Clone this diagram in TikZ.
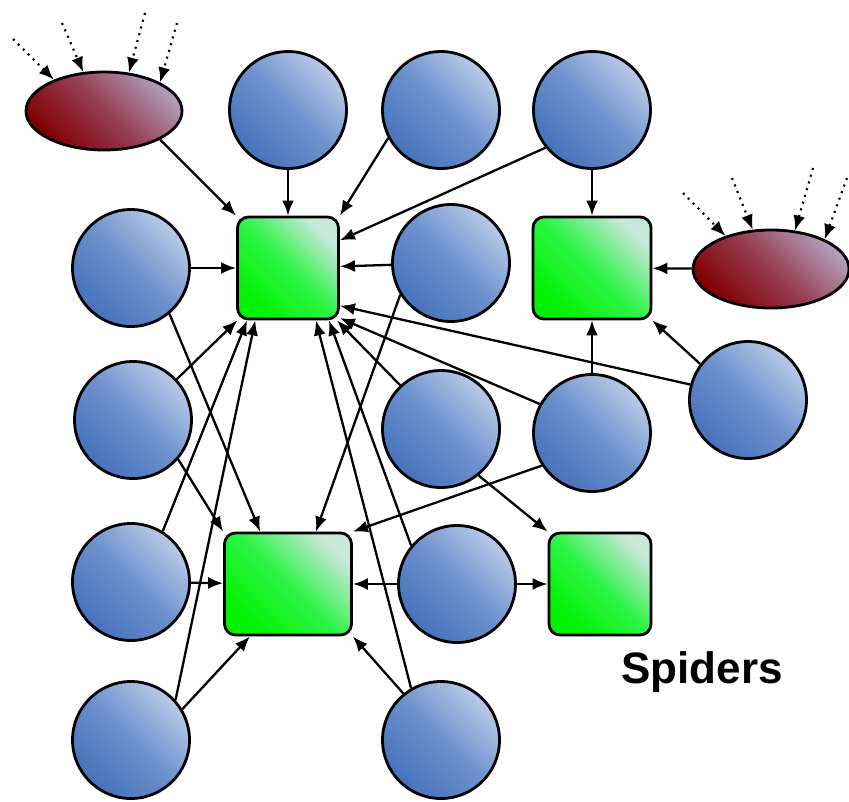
\documentclass[tikz,border=0pt]{standalone}
\usepackage{fontspec}
\newfontfamily\labelfont{Liberation Sans}
\usetikzlibrary{arrows.meta,shapes.geometric}
\definecolor{cblue}{RGB}{70,114,188}
\definecolor{cbluemid}{RGB}{108,144,204}
\definecolor{cbluelight}{RGB}{185,202,232}
\definecolor{cgreen}{RGB}{0,242,0}
\definecolor{cgreenmid}{RGB}{45,244,70}
\definecolor{cgreenlight}{RGB}{200,232,218}
\definecolor{cred}{RGB}{128,0,0}
\definecolor{credmid}{RGB}{150,60,80}
\definecolor{credlight}{RGB}{178,158,185}
\begin{document}
\begin{tikzpicture}[x=1pt,y=-1pt,
  bubble/.style={circle, draw=black, line width=2.8pt, minimum size=117pt, inner sep=0pt,
    top color=cbluelight, bottom color=cblue, middle color=cbluemid, shading angle=-45},
  box/.style={rectangle, rounded corners=11pt, draw=black, line width=2.8pt, inner sep=0pt,
    top color=cgreenlight, bottom color=cgreen, middle color=cgreenmid, shading angle=-45},
  blob/.style={ellipse, draw=black, line width=2.8pt, inner sep=0pt,
    minimum width=156pt, minimum height=78pt,
    top color=credlight, bottom color=cred, middle color=credmid, shading angle=-45},
  arr/.style={line width=2.3pt, -{Latex[length=15pt,width=12pt]}},
  dotarr/.style={line width=2.2pt, dash pattern=on 2pt off 5pt, -{Latex[length=15pt,width=12pt]}}
]
\useasboundingbox (0,0) rectangle (849,801);
\fill[white] (0,0) rectangle (849,801);

% circles
\node[bubble] (c1) at (288,110) {};
\node[bubble] (c2) at (441,110) {};
\node[bubble] (c3) at (592,110) {};
\node[bubble] (c4) at (131,268) {};
\node[bubble] (c5) at (451,263) {};
\node[bubble] (c6) at (133,420) {};
\node[bubble] (c7) at (441,429) {};
\node[bubble] (c8) at (592,433) {};
\node[bubble] (c9) at (748,400) {};
\node[bubble] (c10) at (131,582) {};
\node[bubble] (c11) at (457,584) {};
\node[bubble] (c12) at (131,740) {};
\node[bubble] (c13) at (441,740) {};

% boxes
\node[box, minimum width=101pt, minimum height=102pt] (g1) at (288,268) {};
\node[box, minimum width=118pt, minimum height=102pt] (g2) at (592,268) {};
\node[box, minimum width=127pt, minimum height=102pt] (g3) at (288,584) {};
\node[box, minimum width=102pt, minimum height=102pt] (g4) at (600,584) {};

% ellipses
\node[blob] (e1) at (104,111) {};
\node[blob] (e2) at (771,269) {};

% label
\node[font=\labelfont\bfseries\fontsize{44}{50}\selectfont, anchor=base, inner sep=0pt] (lbl) at (702,683) {Spiders};

% edges into g1
\draw[arr] (e1.-27) -- (g1.north west);
\draw[arr] (c1) -- (g1);
\draw[arr] (c2.208) -- (g1.north east);
\draw[arr] (c3.219) -- (g1.28);
\draw[arr] (c4) -- (g1);
\draw[arr] (c5) -- (g1);
\draw[arr] (c9.165.5) -- (g1.-36);
\draw[arr] (c8.151) -- (g1.-44);
\draw[arr] (c7.133) -- (g1.-47);
\draw[arr] (c11.140) -- (g1.-52.7);
\draw[arr] (c13.120) -- (g1.-62);
\draw[arr] (c6.43) -- (g1.226);
\draw[arr] (c10.58) -- (g1.232);
\draw[arr] (c12.42) -- (g1.238.6);

% edges into g3
\draw[arr] (c4.-50) -- (g3.118);
\draw[arr] (c5.212.7) -- (g3.62.8);
\draw[arr] (c6.-41.6) -- (g3.north west);
\draw[arr] (c8.213) -- (g3.north east);
\draw[arr] (c10) -- (g3);
\draw[arr] (c11) -- (g3);
\draw[arr] (c12.31.6) -- (g3.234);
\draw[arr] (c13.129) -- (g3.south east);

% edges into g2
\draw[arr] (c3) -- (g2);
\draw[arr] (e2) -- (g2);
\draw[arr] (c9.143) -- (g2.south east);
\draw[arr] (c8) -- (g2);

% edges into g4
\draw[arr] (c11) -- (g4);
\draw[arr] (c7.-51) -- (g4.north west);

% dotted inputs
\coordinate (d1) at (13,39);
\coordinate (d2) at (62,23);
\coordinate (d3) at (145,13);
\coordinate (d4) at (177,23);
\coordinate (d5) at (683,193);
\coordinate (d6) at (732,178);
\coordinate (d7) at (813,168);
\coordinate (d8) at (847,178);
\draw[dotarr] (d1) -- (e1.148);
\draw[dotarr] (d2) -- (e1.118);
\draw[dotarr] (d3) -- (e1.57.6);
\draw[dotarr] (d4) -- (e1.27.7);
\draw[dotarr] (d5) -- (e2.144.7);
\draw[dotarr] (d6) -- (e2.115.5);
\draw[dotarr] (d7) -- (e2.58.5);
\draw[dotarr] (d8) -- (e2.29);
\end{tikzpicture}
\end{document}
